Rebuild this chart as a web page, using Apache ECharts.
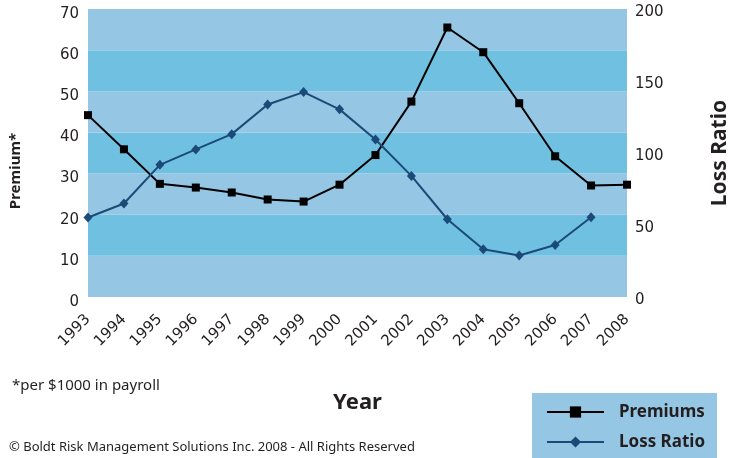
<!DOCTYPE html>
<html>
<head>
<meta charset="utf-8">
<script src="https://cdn.jsdelivr.net/npm/echarts@6/dist/echarts.min.js"></script>
<style>
html,body{margin:0;padding:0;background:#fff;}
#chart{width:730px;height:458px;}
</style>
</head>
<body>
<div id="chart"></div>
<script>
const years = ['1993','1994','1995','1996','1997','1998','1999','2000','2001','2002','2003','2004','2005','2006','2007','2008'];
const premiums = [44.2, 35.9, 27.5, 26.6, 25.4, 23.7, 23.2, 27.3, 34.5, 47.5, 65.5, 59.5, 47.1, 34.2, 27.1, 27.3];
const lossRatio = [55.2, 64.9, 91.8, 102.5, 113.1, 133.7, 142.3, 130.3, 109.4, 84.1, 54.0, 33.2, 28.8, 36.1, 55.4, null];
const premiumTicks = {min: 0, max: 70, interval: 10};
const lossTicks = {min: 0, max: 200, interval: 50};

const LIGHT = '#95c6e3', DARK = '#70c1e1';
const numFont = {fontFamily: 'DejaVu Sans', fontSize: 15, color: '#231f20'};

const chart = echarts.init(document.getElementById('chart'), null, {renderer: 'canvas'});
chart.setOption({
  animation: false,
  backgroundColor: '#fff',
  grid: {left: 88, right: 103, top: 9, bottom: 161, containLabel: false, outerBoundsMode: 'none'},
  legend: {
    orient: 'vertical',
    left: 532, top: 393,
    padding: [9, 14, 0, 14],
    itemWidth: 57, itemHeight: 14, itemGap: 10,
    textStyle: {fontFamily: 'Noto Sans', fontWeight: 'bold', fontSize: 17, lineHeight: 20, color: '#231f20', padding: [0, 0, 0, 10]},
    data: [
      {name: 'Premiums'},
      {name: 'Loss Ratio'}
    ]
  },
  xAxis: {
    type: 'category',
    data: years,
    boundaryGap: false,
    axisLine: {show: false},
    axisTick: {show: false},
    axisLabel: Object.assign({rotate: 45, margin: 20, interval: 0}, numFont),
    name: 'Year',
    nameLocation: 'middle',
    nameGap: 95,
    nameTextStyle: {fontFamily: 'Noto Sans', fontWeight: 'bold', fontSize: 22, color: '#231f20'}
  },
  yAxis: [
    {
      type: 'value',
      min: premiumTicks.min, max: premiumTicks.max, interval: premiumTicks.interval,
      axisLine: {show: false}, axisTick: {show: false},
      splitLine: {show: false},
      splitArea: {show: true, areaStyle: {color: [LIGHT, DARK]}},
      axisLabel: {
        margin: 9,
        formatter: '{a|{value}}',
        rich: {a: Object.assign({padding: [10, 0, 0, 0]}, numFont)}
      },
      name: 'Premium*',
      nameLocation: 'middle',
      nameGap: 65,
      nameRotate: 90,
      nameTextStyle: {fontFamily: 'Noto Sans', fontWeight: 'bold', fontSize: 15, color: '#231f20', padding: [0, 36, 0, 0]}
    },
    {
      type: 'value',
      position: 'right',
      min: lossTicks.min, max: lossTicks.max, interval: lossTicks.interval,
      axisLine: {show: false}, axisTick: {show: false},
      splitLine: {show: false},
      axisLabel: {
        margin: 8,
        formatter: '{a|{value}}',
        rich: {a: Object.assign({padding: [6, 0, 0, 0]}, numFont)}
      },
      name: 'Loss Ratio',
      nameLocation: 'middle',
      nameGap: 83,
      nameRotate: 90,
      nameTextStyle: {fontFamily: 'Noto Sans', fontWeight: 'bold', fontSize: 21, color: '#231f20'}
    }
  ],
  series: [
    {
      name: 'Premiums',
      type: 'line',
      yAxisIndex: 0,
      data: premiums,
      symbol: 'rect',
      symbolSize: 8,
      showAllSymbol: true,
      lineStyle: {color: '#000', width: 2},
      itemStyle: {color: '#000'}
    },
    {
      name: 'Loss Ratio',
      type: 'line',
      yAxisIndex: 1,
      data: lossRatio,
      symbol: 'diamond',
      symbolSize: [9, 10],
      showAllSymbol: true,
      lineStyle: {color: '#1b4a78', width: 2},
      itemStyle: {color: '#1b4a78'}
    }
  ],
  graphic: [
    {type: 'rect', left: 532, top: 393, z: -1, shape: {width: 185, height: 70}, style: {fill: LIGHT}},
    {type: 'text', left: 12, top: 378, style: {text: '*per $1000 in payroll', font: '15px "Noto Sans"', fill: '#231f20'}},
    {type: 'text', left: 9, top: 441, style: {text: '© Boldt Risk Management Solutions Inc. 2008 - All Rights Reserved', font: '13px "Noto Sans"', fill: '#231f20'}}
  ]
});
</script>
</body>
</html>
